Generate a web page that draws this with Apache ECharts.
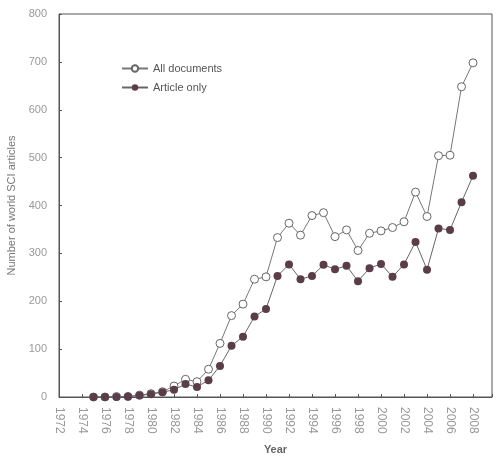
<!DOCTYPE html>
<html><head><meta charset="utf-8">
<script src="https://cdn.jsdelivr.net/npm/echarts@6/dist/echarts.min.js"></script>
<style>html,body{margin:0;padding:0;background:#fff}#c{width:496px;height:458px}</style>
</head><body><div id="c"></div>
<script>
var years = [1975,1976,1977,1978,1979,1980,1981,1982,1983,1984,1985,1986,1987,1988,1989,1990,1991,1992,1993,1994,1995,1996,1997,1998,1999,2000,2001,2002,2003,2004,2005,2006,2007,2008];
var allDocuments = [0,0,1,1,4,7,11,23,37,32,58,112,170,194,246,251,333,363,338,379,385,335,349,306,342,347,354,366,428,377,504,505,648,698];
var articleOnly = [0,0,0,1,3,6,10,15,27,21,35,65,107,126,168,184,253,277,246,253,276,267,274,242,269,278,251,277,324,266,352,349,407,462];
var yTicks = {min:0, max:800, step:100};
var xTicks = {min:1972, max:2009.65, step:2};

function pairs(xs, ys){ return xs.map(function(x,i){ return [x, ys[i]]; }); }

var chart = echarts.init(document.getElementById('c'));
chart.setOption({
  animation:false,
  backgroundColor:'#fff',
  grid:{left:59, right:4, top:14, bottom:61, show:true, borderColor:'#555', borderWidth:1,
        containLabel:false, outerBoundsMode:'none'},
  legend:{
    orient:'vertical', left:116, top:58, itemGap:8, itemWidth:26, itemHeight:8,
    textStyle:{color:'#555', fontSize:11, fontFamily:'Liberation Sans'},
    data:['All documents','Article only']
  },
  xAxis:{
    type:'value', min:xTicks.min, max:xTicks.max, interval:xTicks.step,
    name:'Year', nameLocation:'middle', nameGap:47,
    nameTextStyle:{color:'#666', fontSize:11, fontWeight:'bold', fontFamily:'Liberation Sans'},
    axisLine:{lineStyle:{color:'#555'}},
    axisTick:{inside:true, length:3, lineStyle:{color:'#555'}},
    splitLine:{show:false},
    axisLabel:{rotate:-90, color:'#999', fontSize:12, margin:10, fontFamily:'Liberation Sans',
      formatter:function(v){ return (Math.round(v) === v) ? String(v) : ''; }}
  },
  yAxis:{
    type:'value', min:yTicks.min, max:yTicks.max, interval:yTicks.step,
    name:'Number of world SCI articles', nameLocation:'middle', nameGap:38,
    nameTextStyle:{color:'#777', fontSize:11, fontFamily:'Liberation Sans'},
    axisLine:{show:true, lineStyle:{color:'#555'}},
    axisTick:{show:true, inside:true, length:3, lineStyle:{color:'#555'}},
    splitLine:{show:false},
    axisLabel:{color:'#999', fontSize:11, margin:12, fontFamily:'Liberation Sans'}
  },
  series:[
    {name:'All documents', type:'line', data:pairs(years, allDocuments),
     symbol:'circle', symbolSize:8,
     itemStyle:{color:'#fff', borderColor:'#666', borderWidth:1},
     lineStyle:{color:'#777', width:1}},
    {name:'Article only', type:'line', data:pairs(years, articleOnly),
     symbol:'circle', symbolSize:8,
     itemStyle:{color:'#5a3d48'},
     lineStyle:{color:'#666', width:1}}
  ]
});
</script></body></html>
